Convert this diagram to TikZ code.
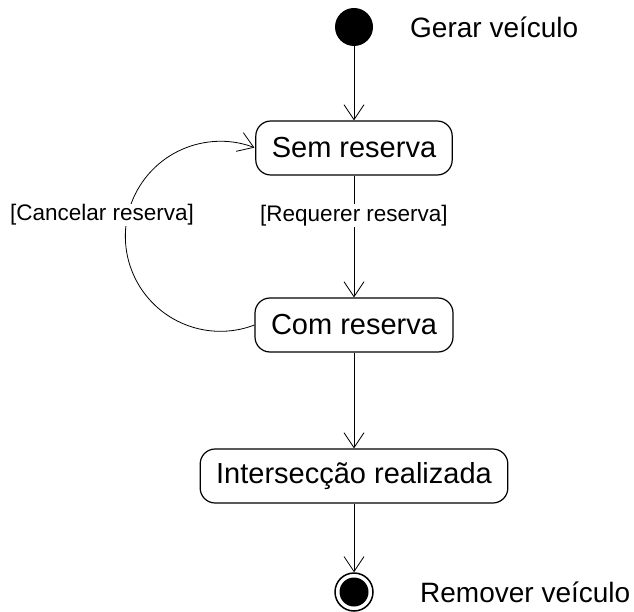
\documentclass[tikz,border=0pt]{standalone}
\usepackage{fontspec}
\setmainfont{Liberation Sans}
\usetikzlibrary{arrows.meta}

\tikzset{
	estado/.style={draw, rounded corners=15pt, line width=1.2pt, minimum height=54pt, inner xsep=16pt, font=\fontsize{29}{34}\selectfont},
	rotulo/.style={font=\fontsize{22.5}{27}\selectfont, inner sep=1pt},
	texto/.style={font=\fontsize{28}{34}\selectfont, anchor=west, inner sep=0pt},
	trans/.style={line width=0.8pt, -{Straight Barb[length=15pt,width=20pt]}}
}

\begin{document}
\begin{tikzpicture}[x=1pt,y=1pt]
	\useasboundingbox (0,0) rectangle (634,-612);
	\node[circle, fill=black, minimum size=38pt, inner sep=0pt] (inicio) at (354,-27) {};
	\node[texto] (gerar) at (410,-27) {Gerar veículo};
	\node[estado] (sem) at (354,-148) {Sem reserva};
	\node[estado] (com) at (354,-325) {Com reserva};
	\node[estado] (inter) at (354,-476) {Intersecção realizada};
	\node[circle, draw, line width=1.5pt, minimum size=38pt, inner sep=0pt] (fim) at (354,-592) {};
	\fill (fim) circle (14.5pt);
	\node[texto] (remover) at (420,-592) {Remover veículo};
	\draw[trans] (inicio) -- (sem);
	\draw[trans] (sem) -- node[rotulo, fill=white, pos=0.33] (requerer) {[Requerer reserva]} (com);
	\draw[trans] (com) -- (inter);
	\draw[trans] (inter) -- (fim);
	\draw[trans] (com.west) arc[start angle=-69, end angle=-291, radius=95];
	\node[rotulo, fill=white] (cancelar) at (102,-215) {[Cancelar reserva]};
\end{tikzpicture}
\end{document}
